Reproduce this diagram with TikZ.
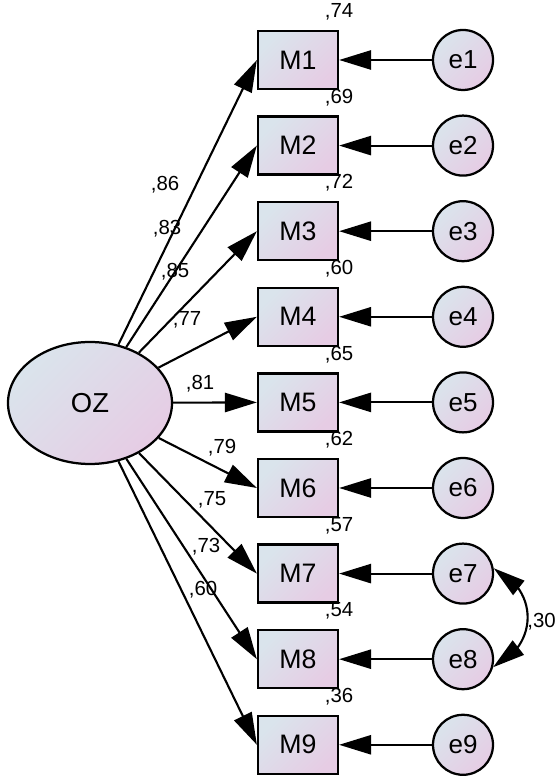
\documentclass[tikz,border=0pt]{standalone}
\usepackage{fontspec}
\setmainfont{Liberation Sans}
\usepackage{tikz}
\usetikzlibrary{arrows.meta}
\usetikzlibrary{calc}
\usetikzlibrary{bending, shapes.geometric}

\definecolor{fillA}{RGB}{218,228,236}
\definecolor{fillB}{RGB}{230,204,228}

\begin{document}
\begin{tikzpicture}[
    grad/.style={draw, line width=1.6pt, top color=fillA, bottom color=fillB, shading angle=45},
    box/.style={grad, rectangle, minimum width=2cm, minimum height=1.45cm, inner sep=0pt, font=\fontsize{19}{19}\selectfont},
    err/.style={grad, circle, minimum size=1.5cm, inner sep=0pt, font=\fontsize{18.5}{18.5}\selectfont},
    lat/.style={grad, ellipse, minimum width=4.1cm, minimum height=3.05cm, inner sep=0pt, font=\fontsize{19.5}{19.5}\selectfont},
    lbl/.style={font=\fontsize{14.5}{14.5}\selectfont, inner sep=0pt},
    arr/.style={-{Triangle[length=0.8cm, width=0.48cm]}, line width=1.5pt}
]

    \useasboundingbox (0,0) rectangle (13.975,19.55);

    % Variable latente
    \node[lat] (OZ) at (2.25,9.475) {OZ};

    % Indicadores, errores y R^2
    \foreach \i/\y/\r in {1/18.05/74, 2/15.91/69, 3/13.77/72, 4/11.63/60, 5/9.49/65,
                          6/7.35/62, 7/5.21/57, 8/3.07/54, 9/0.93/36} {
        \node[box] (M\i) at (7.45,\y) {M\i};
        \node[err] (e\i) at (11.575,\y) {e\i};
        \draw[arr] (e\i) -- (M\i);
        \draw[arr] (OZ) -- (M\i.west);
        \node[lbl] (r\i) at ($(M\i.north east)+(0,0.45)$) {,\r};
    }

    % Cargas
    \foreach \i/\x/\y/\v in {1/4.125/14.925/86, 2/4.175/13.825/83, 3/4.375/12.75/85,
                             4/4.675/11.55/77, 5/5.0/9.95/81, 6/5.55/8.35/79,
                             7/5.3/7.05/75, 8/5.15/5.875/73, 9/5.075/4.8/60} {
        \node[lbl] (l\i) at (\x,\y) {,\v};
    }

    % Covarianza e7 - e8
    \draw[{Triangle[length=0.8cm, width=0.45cm]}-{Triangle[length=0.8cm, width=0.45cm]}, line width=1.5pt]
        (e7.10) to[out=-25, in=25, looseness=1.3] (e8.-15);
    \node[lbl] (c78) at (13.54,4.0) {,30};

\end{tikzpicture}
\end{document}
